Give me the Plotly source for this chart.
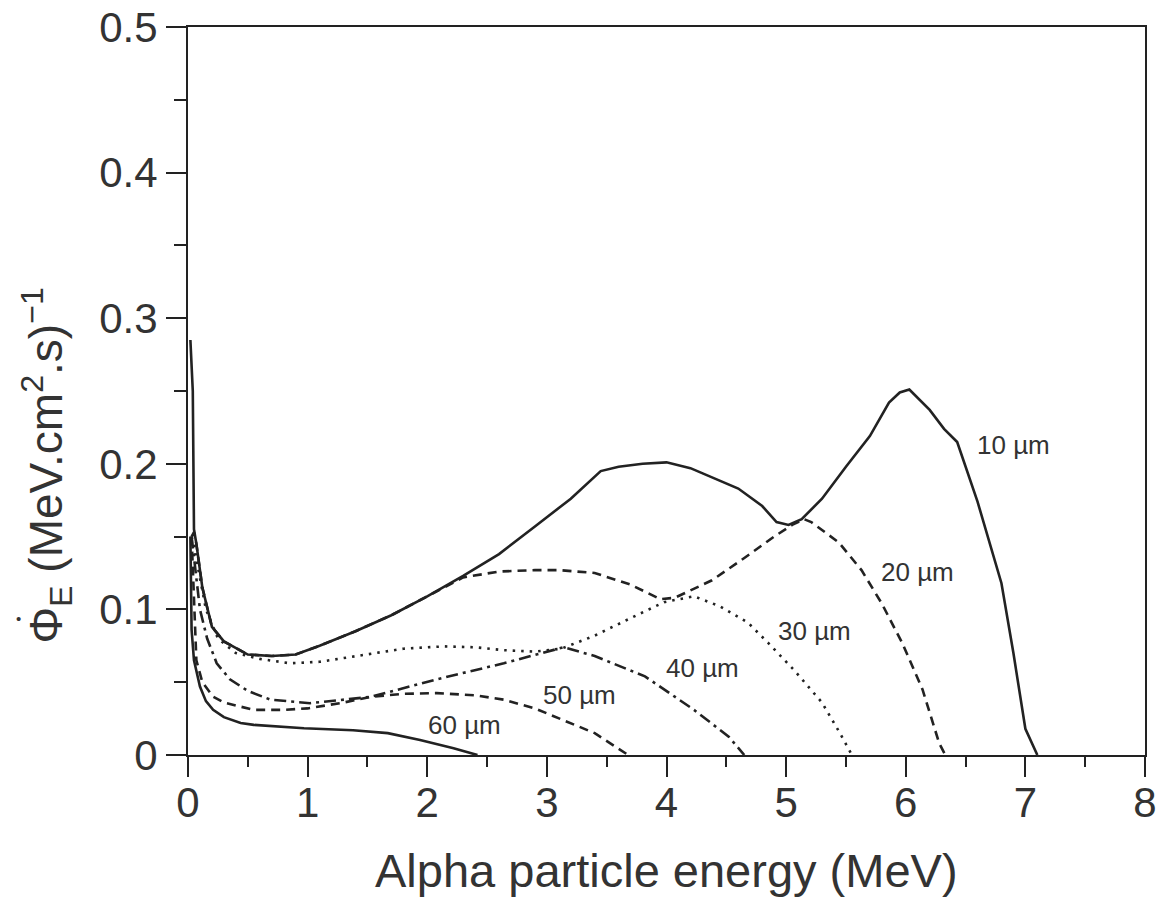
import plotly.graph_objects as go

# ---- data ----
x10 = [0.02, 0.04, 0.05, 0.07, 0.12, 0.2, 0.3, 0.5, 0.7, 0.9, 1.1, 1.4, 1.7, 2.0, 2.3, 2.6, 2.9,
       3.2, 3.45, 3.6, 3.8, 4.0, 4.2, 4.4, 4.6, 4.8, 4.92, 5.02, 5.13, 5.3, 5.5, 5.7, 5.86, 5.95,
       6.03, 6.2, 6.32, 6.43, 6.6, 6.8, 6.9, 7.0, 7.1]
y10 = [0.285, 0.25, 0.155, 0.145, 0.115, 0.088, 0.078, 0.069, 0.068, 0.069, 0.075, 0.085, 0.096,
       0.109, 0.123, 0.138, 0.157, 0.176, 0.195, 0.198, 0.2, 0.201, 0.197, 0.19, 0.183, 0.171,
       0.160, 0.158, 0.162, 0.176, 0.198, 0.219, 0.242, 0.249, 0.251, 0.237, 0.224, 0.215, 0.174,
       0.118, 0.07, 0.018, 0.0]

x20 = [0.03, 0.05, 0.07, 0.12, 0.2, 0.3, 0.5, 0.7, 0.9, 1.1, 1.4, 1.7, 2.0, 2.3, 2.6, 2.9, 3.1,
       3.4, 3.7, 3.95, 4.07, 4.38, 4.68, 4.9, 5.05, 5.15, 5.21, 5.44, 5.63, 5.8, 5.97, 6.14,
       6.28, 6.33]
y20 = [0.15, 0.153, 0.145, 0.115, 0.088, 0.078, 0.069, 0.068, 0.069, 0.075, 0.085, 0.096, 0.109,
       0.122, 0.126, 0.127, 0.127, 0.125, 0.117, 0.107, 0.108, 0.120, 0.137, 0.150, 0.158,
       0.162, 0.160, 0.146, 0.127, 0.104, 0.077, 0.045, 0.008, 0.0]

x30 = [0.03, 0.05, 0.08, 0.15, 0.25, 0.4, 0.6, 0.85, 1.1, 1.4, 1.8, 2.14, 2.4, 2.64, 2.9, 3.12,
       3.4, 3.7, 3.98, 4.23, 4.45, 4.68, 4.85, 5.07, 5.3, 5.45, 5.55]
y30 = [0.15, 0.145, 0.13, 0.1, 0.08, 0.07, 0.066, 0.063, 0.064, 0.068, 0.073, 0.0746, 0.074,
       0.072, 0.071, 0.073, 0.082, 0.094, 0.105, 0.109, 0.102, 0.091, 0.077, 0.058, 0.036,
       0.015, 0.0]

x40 = [0.03, 0.06, 0.1, 0.16, 0.24, 0.35, 0.5, 0.69, 1.02, 1.53, 2.08, 2.64, 3.14, 3.4, 3.82,
       4.23, 4.52, 4.65]
y40 = [0.15, 0.13, 0.1, 0.08, 0.063, 0.052, 0.044, 0.038, 0.0356, 0.040, 0.052, 0.063, 0.074,
       0.068, 0.054, 0.031, 0.0126, 0.0]

x50 = [0.03, 0.05, 0.07, 0.12, 0.21, 0.3, 0.44, 0.55, 0.8, 1.0, 1.3, 1.53, 1.8, 2.08, 2.4, 2.64,
       2.9, 3.2, 3.4, 3.68]
y50 = [0.15, 0.1, 0.065, 0.05, 0.040, 0.036, 0.033, 0.031, 0.031, 0.032, 0.036, 0.040, 0.042,
       0.0425, 0.041, 0.038, 0.032, 0.022, 0.015, 0.0]

x60 = [0.02, 0.03, 0.05, 0.1, 0.15, 0.21, 0.3, 0.44, 0.55, 0.97, 1.38, 1.67, 1.94, 2.22, 2.42]
y60 = [0.15, 0.086, 0.065, 0.047, 0.037, 0.031, 0.026, 0.022, 0.0207, 0.0184, 0.017, 0.015,
       0.0103, 0.0046, 0.0]

labels = ["10 µm", "20 µm", "30 µm", "40 µm", "50 µm", "60 µm"]
label_x = [6.90, 6.10, 5.24, 4.30, 3.27, 2.31]
label_y = [0.2128, 0.126, 0.0855, 0.060, 0.0413, 0.0207]

xticks = [0, 1, 2, 3, 4, 5, 6, 7, 8]
yticks = [0, 0.1, 0.2, 0.3, 0.4, 0.5]
yticktext = ["0", "0.1", "0.2", "0.3", "0.4", "0.5"]

# ---- figure ----
INK = "#222222"
TXT = "#333333"
FONT = "Liberation Sans, Arial, sans-serif"

series = [
    (x10, y10, "solid"),
    (x20, y20, "9px,6px"),
    (x30, y30, "2.5px,6px"),
    (x40, y40, "12px,5px,3px,5px"),
    (x50, y50, "9px,6px"),
    (x60, y60, "solid"),
]

fig = go.Figure()
for (xs, ys, dash), name in zip(series, labels):
    fig.add_trace(go.Scatter(x=xs, y=ys, mode="lines", name=name,
                             line=dict(color=INK, width=2.6, dash=dash),
                             showlegend=False, hoverinfo="skip"))

for t, lx, ly in zip(labels, label_x, label_y):
    fig.add_annotation(x=lx, y=ly, xref="x", yref="y", text=t, showarrow=False,
                       font=dict(family=FONT, size=26, color=TXT),
                       xanchor="center", yanchor="middle")

fig.add_annotation(x=0.5, y=-0.158, xref="paper", yref="paper",
                   text="Alpha particle energy (MeV)", showarrow=False,
                   font=dict(family=FONT, size=47, color=TXT),
                   xanchor="center", yanchor="middle")
fig.add_annotation(x=-0.148, y=0.398, xref="paper", yref="paper",
                   text="Φ<sub>E</sub> (MeV.cm<sup>2</sup>.s)<sup>−1</sup>",
                   textangle=-90, showarrow=False,
                   font=dict(family=FONT, size=46, color=TXT),
                   xanchor="center", yanchor="middle")
# dot above the Φ (time derivative)
fig.add_annotation(x=-0.177, y=0.187, xref="paper", yref="paper",
                   text="•", showarrow=False,
                   font=dict(family=FONT, size=15, color=TXT),
                   xanchor="center", yanchor="middle")

fig.update_xaxes(range=[0, 8], tickvals=xticks, ticks="outside", ticklen=20, tickwidth=2,
                 tickcolor=INK, showline=True, linecolor=INK, linewidth=2, mirror=True,
                 showgrid=False, zeroline=False, automargin=False, ticklabelstandoff=-10,
                 tickfont=dict(family=FONT, size=42, color=TXT),
                 minor=dict(dtick=0.5, ticks="outside", ticklen=10, tickwidth=2, tickcolor=INK,
                            showgrid=False))
fig.update_yaxes(range=[0, 0.5], tickvals=yticks, ticktext=yticktext, ticks="outside",
                 ticklen=20, tickwidth=2, tickcolor=INK, showline=True, linecolor=INK,
                 linewidth=2, mirror=True, showgrid=False, zeroline=False, automargin=False,
                 tickfont=dict(family=FONT, size=42, color=TXT),
                 minor=dict(dtick=0.05, ticks="outside", ticklen=12, tickwidth=2,
                            tickcolor=INK, showgrid=False))

fig.update_layout(width=1163, height=903, margin=dict(l=188, r=18, t=27, b=148),
                  paper_bgcolor="white", plot_bgcolor="white")

fig.write_html("out.html")
